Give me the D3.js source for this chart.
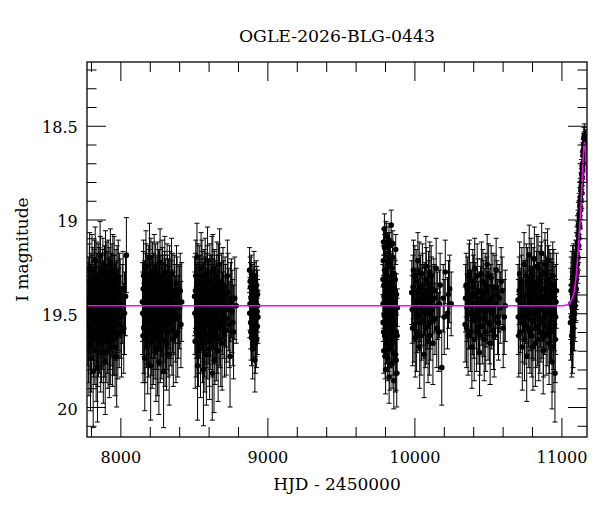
<!DOCTYPE html>
<html>
<head>
<meta charset="utf-8">
<script src="https://cdn.jsdelivr.net/npm/d3@7"></script>
<style>
  body { margin: 0; background: #fff; }
  text { font-family: "DejaVu Serif", serif; fill: #000; }
</style>
</head>
<body>
<svg id="chart"></svg>
<script>
// observing seasons: [HJD-2450000, I mag, error]
var season1 = [
  [7778,19.55,.23],[7782,19.41,.21],[7786,19.68,.26],[7789,19.33,.2],[7793,19.49,.22],[7797,19.74,.28],[7800,19.38,.2],[7804,19.58,.24],
  [7807,19.27,.19],[7811,19.46,.22],[7815,19.81,.3],[7818,19.52,.23],[7822,19.36,.2],[7826,19.63,.25],[7829,19.22,.18],[7833,19.47,.22],
  [7837,19.55,.23],[7840,19.31,.19],[7844,19.79,.29],[7848,19.43,.21],[7851,19.6,.24],[7855,19.35,.2],[7859,19.5,.22],[7862,19.19,.18],
  [7866,19.66,.26],[7870,19.44,.21],[7873,19.39,.2],[7877,19.57,.23],[7881,19.29,.19],[7884,19.71,.27],[7888,19.48,.22],[7892,19.34,.2],
  [7895,19.53,.23],[7899,19.25,.19],[7903,19.62,.25],[7906,19.45,.21],[7910,19.37,.2],[7914,19.58,.24],[7917,19.3,.19],[7921,19.5,.22],
  [7925,19.69,.26],[7928,19.41,.21],[7932,19.23,.18],[7936,19.55,.23],[7939,19.46,.22],[7943,19.33,.2],[7947,19.64,.25],[7950,19.4,.21],
  [7954,19.52,.22],[7958,19.28,.19],[7962,19.59,.24],[7966,19.44,.21],[7970,19.36,.2],[7975,19.73,.27],[7980,19.49,.22],[7986,19.31,.2],
  [7992,19.56,.23],[7999,19.42,.21],[8008,19.6,.24],[8018,19.37,.2],[8028,19.5,.22],[8041,19.19,.2],
  [7780,19.44,.21],[7784,19.62,.25],[7788,19.5,.22],[7791,19.26,.19],[7795,19.57,.23],[7799,19.46,.22],[7802,19.66,.26],[7806,19.4,.21],
  [7809,19.53,.22],[7813,19.35,.2],[7817,19.6,.24],[7820,19.47,.22],[7824,19.3,.19],[7828,19.54,.23],[7831,19.42,.21],[7835,19.7,.27],
  [7839,19.38,.2],[7842,19.51,.22],[7846,19.64,.25],[7850,19.33,.2],[7853,19.48,.22],[7857,19.58,.24],[7861,19.41,.21],[7864,19.28,.19],
  [7868,19.55,.23],[7872,19.62,.25],[7875,19.47,.22],[7879,19.36,.2],[7883,19.52,.22],[7886,19.43,.21],[7890,19.6,.24],[7894,19.39,.21],
  [7897,19.76,.28],[7901,19.45,.21],[7905,19.54,.23],[7908,19.32,.2],[7912,19.49,.22],[7916,19.65,.25],[7919,19.42,.21],[7923,19.35,.2],
  [7927,19.57,.23],[7930,19.46,.22],[7934,19.63,.25],[7938,19.38,.2],[7941,19.51,.22],[7945,19.44,.21],[7949,19.27,.19],[7952,19.59,.24],
  [7956,19.47,.22],[7960,19.4,.21],[7964,19.68,.26],[7968,19.53,.22],[7973,19.43,.21],[7978,19.34,.2],[7983,19.61,.24],[7989,19.48,.22],
  [7995,19.39,.21],[8003,19.52,.22],[8013,19.45,.21],[8023,19.58,.24],[8035,19.41,.21]
];
var season2 = [
  [8150,19.44,.21],[8154,19.62,.25],[8158,19.3,.19],[8162,19.51,.22],[8166,19.74,.28],[8170,19.38,.2],[8174,19.25,.19],[8178,19.56,.23],
  [8182,19.47,.22],[8186,19.67,.26],[8190,19.34,.2],[8194,19.53,.23],[8198,19.2,.18],[8202,19.45,.21],[8206,19.78,.29],[8210,19.41,.21],
  [8214,19.59,.24],[8218,19.32,.2],[8222,19.49,.22],[8226,19.63,.25],[8230,19.27,.19],[8234,19.52,.22],[8238,19.39,.2],[8242,19.7,.27],
  [8246,19.44,.21],[8250,19.57,.23],[8254,19.31,.19],[8258,19.48,.22],[8262,19.76,.28],[8266,19.36,.2],[8270,19.23,.18],[8274,19.54,.23],
  [8278,19.43,.21],[8282,19.61,.24],[8286,19.35,.2],[8290,19.5,.22],[8294,19.81,.3],[8298,19.4,.21],[8302,19.28,.19],[8306,19.58,.24],
  [8310,19.46,.22],[8314,19.66,.25],[8318,19.33,.2],[8322,19.52,.22],[8327,19.42,.21],[8332,19.72,.27],[8337,19.37,.2],[8342,19.55,.23],
  [8348,19.29,.19],[8354,19.49,.22],[8360,19.64,.25],[8367,19.4,.21],[8374,19.53,.23],[8382,19.34,.2],[8390,19.6,.24],[8398,19.45,.21],
  [8407,19.38,.2],[8417,19.44,.21],
  [8152,19.5,.22],[8156,19.37,.2],[8160,19.58,.24],[8164,19.43,.21],[8168,19.62,.25],[8172,19.47,.22],[8176,19.33,.2],[8180,19.54,.23],
  [8184,19.4,.21],[8188,19.5,.22],[8192,19.6,.24],[8196,19.36,.2],[8200,19.55,.23],[8204,19.42,.21],[8208,19.29,.19],[8212,19.52,.22],
  [8216,19.65,.25],[8220,19.44,.21],[8224,19.38,.2],[8228,19.57,.23],[8232,19.46,.22],[8236,19.61,.24],[8240,19.33,.2],[8244,19.5,.22],
  [8248,19.41,.21],[8252,19.68,.26],[8256,19.45,.21],[8260,19.36,.2],[8264,19.55,.23],[8268,19.48,.22],[8272,19.62,.25],[8276,19.39,.2],
  [8280,19.51,.22],[8284,19.3,.19],[8288,19.58,.24],[8292,19.44,.21],[8296,19.53,.23],[8300,19.37,.2],[8304,19.64,.25],[8308,19.42,.21],
  [8312,19.5,.22],[8316,19.57,.23],[8320,19.4,.21],[8325,19.6,.24],[8330,19.47,.22],[8335,19.34,.2],[8340,19.52,.22],[8345,19.43,.21],
  [8351,19.59,.24],[8357,19.38,.2],[8364,19.5,.22],[8371,19.45,.21],[8378,19.62,.25],[8386,19.41,.21],[8394,19.52,.22],[8403,19.47,.22],
  [8412,19.56,.23]
];
var season3 = [
  [8505,19.41,.21],[8509,19.65,.25],[8513,19.3,.19],[8517,19.52,.22],[8521,19.2,.18],[8525,19.78,.29],[8529,19.44,.21],[8533,19.58,.24],
  [8537,19.34,.2],[8541,19.49,.22],[8545,19.69,.26],[8549,19.26,.19],[8553,19.46,.22],[8557,19.55,.23],[8561,19.37,.2],[8565,19.8,.3],
  [8569,19.42,.21],[8573,19.6,.24],[8577,19.29,.19],[8581,19.5,.22],[8585,19.72,.27],[8589,19.38,.2],[8593,19.22,.18],[8597,19.54,.23],
  [8601,19.45,.21],[8605,19.64,.25],[8609,19.33,.2],[8613,19.51,.22],[8625,19.82,.25],[8621,19.4,.21],[8629,19.27,.19],[8633,19.47,.22],
  [8637,19.75,.28],[8641,19.36,.2],[8645,19.53,.23],[8649,19.43,.21],[8653,19.62,.24],[8657,19.31,.19],[8661,19.49,.22],[8665,19.7,.27],
  [8670,19.39,.2],[8675,19.24,.19],[8680,19.56,.23],[8686,19.44,.21],[8692,19.66,.25],[8698,19.35,.2],[8705,19.52,.22],[8712,19.41,.21],
  [8720,19.59,.24],[8728,19.3,.19],[8737,19.48,.22],[8746,19.73,.27],[8755,19.42,.21],[8765,19.55,.23],[8788,19.46,.2],
  [8507,19.5,.22],[8511,19.38,.2],[8515,19.6,.24],[8519,19.45,.21],[8523,19.55,.23],[8527,19.33,.2],[8531,19.64,.25],[8535,19.42,.21],
  [8539,19.52,.22],[8543,19.39,.2],[8547,19.58,.24],[8551,19.47,.22],[8555,19.3,.19],[8559,19.62,.25],[8563,19.44,.21],[8567,19.53,.23],
  [8571,19.36,.2],[8575,19.66,.26],[8579,19.41,.21],[8583,19.56,.23],[8587,19.48,.22],[8591,19.34,.2],[8595,19.61,.24],[8599,19.43,.21],
  [8603,19.5,.22],[8607,19.69,.27],[8611,19.39,.2],[8615,19.57,.23],[8619,19.46,.22],[8623,19.28,.19],[8627,19.6,.24],[8631,19.42,.21],
  [8635,19.54,.23],[8639,19.37,.2],[8643,19.63,.25],[8647,19.47,.22],[8651,19.52,.22],[8655,19.4,.21],[8659,19.58,.24],[8663,19.45,.21],
  [8668,19.33,.2],[8673,19.55,.23],[8678,19.48,.22],[8683,19.64,.25],[8689,19.38,.2],[8695,19.5,.22],[8701,19.43,.21],[8708,19.6,.24],
  [8716,19.46,.22],[8724,19.53,.23],[8732,19.39,.21],[8741,19.56,.23],[8750,19.44,.21],[8760,19.49,.22],[8770,19.6,.25],[8778,19.42,.22]
];
var season4 = [
  [8879,19.27,.12],[8882,19.45,.14],[8885,19.36,.13],[8888,19.6,.15],[8891,19.32,.13],[8894,19.5,.14],[8897,19.41,.13],[8900,19.69,.16],
  [8903,19.38,.13],[8906,19.55,.14],[8909,19.3,.13],[8912,19.47,.14],[8915,19.75,.17],[8918,19.42,.13],[8921,19.58,.15],[8924,19.35,.13],
  [8927,19.64,.15],[8930,19.49,.14],[8933,19.4,.13],[8936,19.52,.14],
  [8880,19.5,.13],[8883,19.33,.13],[8886,19.55,.14],[8889,19.42,.13],[8892,19.63,.15],[8895,19.37,.13],[8898,19.52,.14],[8901,19.45,.14],
  [8904,19.6,.15],[8907,19.4,.13],[8910,19.53,.14],[8913,19.36,.13],[8916,19.48,.14],[8919,19.66,.16],[8922,19.44,.14],[8925,19.5,.14],
  [8928,19.38,.13],[8931,19.57,.15],[8934,19.46,.14]
];
var season5 = [
  [9786,19.32,.08],[9788,19.55,.1],[9790,19.12,.07],[9792,19.7,.12],[9794,19.41,.09],[9796,19.05,.08],[9798,19.62,.11],[9800,19.27,.08],
  [9802,19.48,.09],[9804,19.8,.13],[9806,19.18,.07],[9808,19.38,.08],[9810,19.66,.11],[9812,19.09,.07],[9814,19.52,.1],[9816,19.3,.08],
  [9818,19.74,.12],[9820,19.44,.09],[9822,19.22,.08],[9824,19.58,.1],[9826,19.35,.08],[9828,19.84,.14],[9830,19.14,.07],[9832,19.47,.09],
  [9834,19.68,.11],[9836,19.25,.08],[9838,19.4,.09],[9840,19.6,.1],[9842,19.03,.08],[9844,19.53,.1],[9846,19.33,.08],[9848,19.77,.13],
  [9850,19.45,.09],[9852,19.2,.08],[9854,19.64,.11],[9856,19.37,.08],[9858,19.5,.09],[9860,19.86,.15],[9862,19.29,.08],[9864,19.56,.1],
  [9867,19.42,.09],[9870,19.72,.2],[9873,19.16,.08],[9876,19.6,.12],[9880,19.82,.18],[9884,19.47,.1],
  [9787,19.45,.09],[9789,19.22,.08],[9791,19.6,.1],[9793,19.35,.08],[9795,19.51,.09],[9797,19.15,.07],[9799,19.42,.09],[9801,19.73,.12],
  [9803,19.3,.08],[9805,19.57,.1],[9807,19.08,.07],[9809,19.49,.09],[9811,19.28,.08],[9813,19.63,.11],[9815,19.4,.09],[9817,19.19,.07],
  [9819,19.55,.1],[9821,19.34,.08],[9823,19.69,.12],[9825,19.46,.09],[9827,19.11,.07],[9829,19.53,.1],[9831,19.38,.08],[9833,19.78,.13],
  [9835,19.43,.09],[9837,19.23,.08],[9839,19.59,.1],[9841,19.31,.08],[9843,19.5,.09],[9845,19.65,.11],[9847,19.26,.08],[9849,19.41,.09],
  [9851,19.57,.1],[9853,19.13,.07],[9855,19.48,.09],[9857,19.71,.12],[9859,19.36,.08],[9861,19.54,.1],[9863,19.44,.09],[9866,19.62,.12],
  [9869,19.32,.1],[9872,19.5,.12],[9875,19.75,.16],[9878,19.4,.11],[9882,19.62,.2]
];
var season6 = [
  [9982,19.39,.17],[9988,19.58,.2],[9994,19.27,.16],[10000,19.47,.18],[10006,19.63,.21],[10012,19.33,.17],[10018,19.52,.19],[10024,19.22,.15],
  [10030,19.44,.18],[10036,19.68,.22],[10042,19.36,.17],[10048,19.55,.2],[10054,19.29,.16],[10060,19.49,.18],[10066,19.72,.23],[10072,19.4,.17],
  [10078,19.25,.16],[10084,19.57,.2],[10090,19.45,.18],[10096,19.34,.17],[10102,19.62,.21],[10108,19.5,.19],[10114,19.3,.16],[10120,19.43,.18],
  [10126,19.66,.22],[10132,19.38,.17],[10140,19.53,.19],[10148,19.26,.16],[10156,19.46,.18],[10165,19.6,.21],[10175,19.35,.17],[10186,19.79,.2],
  [10196,19.42,.18],[10210,19.28,.17],[10225,19.5,.19],[10240,19.37,.18],[10250,19.45,.17],
  [9985,19.48,.18],[9991,19.36,.17],[9997,19.56,.2],[10003,19.3,.16],[10009,19.45,.18],[10015,19.6,.21],[10021,19.39,.17],[10027,19.51,.19],
  [10033,19.28,.16],[10039,19.47,.18],[10045,19.62,.21],[10051,19.42,.18],[10057,19.35,.17],[10063,19.54,.2],[10069,19.44,.18],[10075,19.58,.21],
  [10081,19.32,.17],[10087,19.5,.19],[10093,19.65,.22],[10099,19.4,.18],[10105,19.28,.16],[10111,19.55,.2],[10117,19.37,.17],[10123,19.48,.19],
  [10136,19.42,.18],[10152,19.58,.21],[10170,19.45,.18],[10203,19.52,.2],[10232,19.4,.18]
];
var season7 = [
  [10345,19.56,.2],[10352,19.35,.17],[10358,19.47,.18],[10365,19.62,.21],[10371,19.3,.17],[10378,19.5,.19],[10384,19.41,.18],[10391,19.68,.22],
  [10397,19.33,.17],[10404,19.54,.2],[10410,19.26,.16],[10417,19.45,.18],[10423,19.6,.21],[10430,19.38,.17],[10436,19.52,.19],[10443,19.71,.23],
  [10449,19.43,.18],[10456,19.29,.17],[10462,19.57,.2],[10469,19.4,.18],[10475,19.64,.22],[10482,19.35,.17],[10488,19.49,.19],[10495,19.24,.16],
  [10501,19.55,.2],[10508,19.44,.18],[10515,19.66,.22],[10522,19.31,.17],[10530,19.48,.19],[10538,19.59,.21],[10547,19.37,.18],[10556,19.27,.17],
  [10566,19.52,.2],[10577,19.42,.18],[10590,19.33,.18],[10604,19.58,.21],[10618,19.46,.19],
  [10348,19.42,.18],[10355,19.58,.21],[10362,19.37,.17],[10368,19.5,.19],[10375,19.28,.17],[10381,19.6,.21],[10388,19.45,.18],[10394,19.52,.2],
  [10401,19.36,.17],[10407,19.64,.22],[10414,19.41,.18],[10420,19.5,.19],[10427,19.3,.17],[10433,19.57,.2],[10440,19.46,.18],[10446,19.62,.21],
  [10453,19.39,.18],[10459,19.48,.19],[10466,19.33,.17],[10472,19.53,.2],[10479,19.44,.18],[10485,19.6,.21],[10492,19.38,.18],[10498,19.47,.19],
  [10505,19.3,.17],[10512,19.56,.21],[10519,19.42,.18],[10526,19.5,.19],[10534,19.36,.18],[10543,19.62,.22],[10552,19.45,.19],[10561,19.4,.18],
  [10572,19.55,.2],[10584,19.47,.19],[10597,19.38,.18],[10611,19.52,.2]
];
var season8 = [
  [10705,19.43,.19],[10710,19.62,.22],[10716,19.29,.17],[10722,19.51,.2],[10728,19.37,.18],[10734,19.68,.23],[10740,19.46,.19],[10746,19.24,.17],
  [10752,19.56,.21],[10758,19.4,.18],[10764,19.73,.24],[10770,19.33,.18],[10776,19.49,.19],[10781,19.19,.16],[10786,19.6,.22],[10791,19.44,.19],
  [10796,19.3,.17],[10801,19.54,.2],[10806,19.68,.23],[10811,19.38,.18],[10816,19.21,.17],[10821,19.47,.19],[10826,19.58,.21],[10831,19.35,.18],
  [10836,19.5,.2],[10841,19.26,.17],[10846,19.64,.22],[10851,19.42,.19],[10856,19.32,.18],[10861,19.55,.21],[10866,19.18,.16],[10871,19.46,.19],
  [10876,19.7,.23],[10881,19.37,.18],[10886,19.52,.2],[10891,19.28,.17],[10896,19.61,.22],[10901,19.43,.19],[10906,19.22,.17],[10911,19.49,.2],
  [10916,19.66,.22],[10921,19.34,.18],[10926,19.55,.21],[10931,19.4,.19],[10936,19.76,.25],[10941,19.3,.18],[10946,19.58,.22],[10951,19.45,.2],
  [10956,19.82,.26],[10961,19.52,.2],[10966,19.38,.2],
  [10707,19.52,.2],[10713,19.38,.18],[10719,19.6,.22],[10725,19.45,.19],[10731,19.33,.18],[10737,19.55,.21],[10743,19.41,.19],[10749,19.64,.22],
  [10755,19.47,.19],[10761,19.3,.17],[10767,19.52,.2],[10773,19.4,.19],[10778,19.58,.21],[10783,19.36,.18],[10788,19.5,.2],[10793,19.27,.17],
  [10798,19.62,.22],[10803,19.44,.19],[10808,19.33,.18],[10813,19.54,.21],[10818,19.4,.19],[10823,19.66,.23],[10828,19.46,.19],[10833,19.25,.17],
  [10838,19.57,.21],[10843,19.42,.19],[10848,19.35,.18],[10853,19.6,.22],[10858,19.48,.2],[10863,19.3,.18],[10868,19.53,.21],[10873,19.41,.19],
  [10878,19.62,.22],[10883,19.45,.19],[10888,19.24,.17],[10893,19.5,.2],[10898,19.38,.18],[10903,19.57,.21],[10908,19.44,.19],[10913,19.32,.18],
  [10918,19.6,.22],[10923,19.47,.2],[10928,19.36,.18],[10933,19.55,.21],[10938,19.42,.19],[10943,19.68,.24],[10948,19.35,.19],[10953,19.5,.2],
  [10958,19.64,.23],[10963,19.44,.2]
];
// the rising part of the event
var season9 = [
  [11062,19.55,.2],[11066,19.38,.18],[11070,19.62,.22],[11073,19.47,.19],[11076,19.31,.17],[11079,19.58,.21],[11082,19.44,.19],[11085,19.36,.18],
  [11088,19.5,.2],[11091,19.4,.18],[11094,19.33,.17],[11097,19.27,.16],[11100,19.37,.17],[11103,19.22,.15],[11106,19.28,.16],[11109,19.12,.14],
  [11112,19.2,.14],[11115,19.03,.12],[11118,19.1,.13],[11121,18.97,.11],[11124,19.04,.12],[11127,18.9,.1],[11130,18.95,.1],[11133,18.84,.09],
  [11136,18.8,.09],[11139,18.86,.08],[11142,18.72,.08],[11145,18.7,.07],[11148,18.64,.07],[11151,18.6,.06],[11154,18.57,.06],[11157,18.6,.06],
  [11160,18.62,.07],[11163,18.58,.06],
  [11064,19.45,.19],[11068,19.52,.2],[11072,19.35,.18],[11075,19.6,.22],[11078,19.42,.19],[11081,19.5,.2],[11084,19.3,.17],[11087,19.44,.19],
  [11090,19.34,.17],[11093,19.46,.19],[11096,19.38,.17],[11099,19.3,.16],[11102,19.32,.16],[11105,19.18,.14],[11108,19.24,.15],[11111,19.15,.14],
  [11114,19.08,.13],[11117,19.14,.13],[11120,19.02,.12],[11123,18.99,.11],[11126,18.93,.1],[11129,18.88,.1],[11132,18.9,.1],[11135,18.82,.09],
  [11138,18.76,.08],[11141,18.78,.08],[11144,18.74,.08],[11147,18.66,.07],[11150,18.63,.07],[11153,18.62,.06],[11156,18.55,.06],[11159,18.59,.06],
  [11162,18.64,.07]
];

// model curve
var modelHjd = [7773, 11000, 11040, 11068, 11090, 11106, 11120, 11133, 11145, 11151, 11156, 11160, 11164, 11168, 11171, 11174];
var modelMag = [19.46, 19.46, 19.455, 19.43, 19.37, 19.25, 19.09, 18.93, 18.72, 18.63, 18.59, 18.6, 18.64, 18.7, 18.76, 18.8];

// axis ticks
var xMajor = [8000, 9000, 10000, 11000];
var xMinor = [7800, 8200, 8400, 8600, 8800, 9200, 9400, 9600, 9800, 10200, 10400, 10600, 10800];
var yMajor = [18.5, 19, 19.5, 20];
var yMinor = [18.2, 18.3, 18.4, 18.6, 18.7, 18.8, 18.9, 19.1, 19.2, 19.3, 19.4, 19.6, 19.7, 19.8, 19.9, 20.1];

var titleText = "OGLE-2026-BLG-0443";

var W = 600, H = 512;
var margin = { top: 62, right: 13, bottom: 75, left: 87 };
var width = W - margin.left - margin.right;
var height = H - margin.top - margin.bottom;

var svg = d3.select("#chart")
  .attr("width", W)
  .attr("height", H);

var g = svg.append("g")
  .attr("transform", "translate(" + margin.left + "," + margin.top + ")");

var xScale = d3.scaleLinear().domain([7773, 11174]).range([0, width]);
var yScale = d3.scaleLinear().domain([18.16, 20.16]).range([0, height]);

var data = [].concat(season1, season2, season3, season4, season5, season6, season7, season8, season9);

// clip so nothing sticks out of the frame
g.append("clipPath").attr("id", "clip")
  .append("rect").attr("width", width).attr("height", height);

var plot = g.append("g").attr("clip-path", "url(#clip)");

// error bars
var bars = plot.selectAll(".ebar")
  .data(data)
  .enter().append("g")
  .attr("class", "ebar")
  .attr("stroke", "#000")
  .attr("stroke-width", 1);

bars.append("line")
  .attr("x1", function(d) { return xScale(d[0]); })
  .attr("x2", function(d) { return xScale(d[0]); })
  .attr("y1", function(d) { return yScale(d[1] - d[2]); })
  .attr("y2", function(d) { return yScale(d[1] + d[2]); });

bars.append("line")
  .attr("x1", function(d) { return xScale(d[0]) - 2.5; })
  .attr("x2", function(d) { return xScale(d[0]) + 2.5; })
  .attr("y1", function(d) { return yScale(d[1] - d[2]); })
  .attr("y2", function(d) { return yScale(d[1] - d[2]); });

bars.append("line")
  .attr("x1", function(d) { return xScale(d[0]) - 2.5; })
  .attr("x2", function(d) { return xScale(d[0]) + 2.5; })
  .attr("y1", function(d) { return yScale(d[1] + d[2]); })
  .attr("y2", function(d) { return yScale(d[1] + d[2]); });

// dots
plot.selectAll(".dot")
  .data(data)
  .enter().append("circle")
  .attr("class", "dot")
  .attr("cx", function(d) { return xScale(d[0]); })
  .attr("cy", function(d) { return yScale(d[1]); })
  .attr("r", 2.8)
  .style("fill", "#000");

// model line
var line = d3.line()
  .x(function(d, i) { return xScale(modelHjd[i]); })
  .y(function(d, i) { return yScale(modelMag[i]); })
  .curve(d3.curveMonotoneX);

plot.append("path")
  .datum(modelHjd)
  .attr("d", line)
  .attr("fill", "none")
  .attr("stroke", "#ff00ff")
  .attr("stroke-width", 1.6);

// axes, ticks pointing inward on all four sides
function styleAxis(sel) {
  sel.select(".domain").remove();
  sel.selectAll(".tick line").attr("stroke", "#000");
  sel.selectAll("text")
    .style("font-family", "'DejaVu Serif', serif")
    .style("font-size", "16px")
    .attr("fill", "#000");
}

g.append("g")
  .attr("transform", "translate(0," + height + ")")
  .call(d3.axisBottom(xScale).tickValues(xMajor).tickSize(-19).tickSizeOuter(0).tickPadding(14.3).tickFormat(d3.format("d")))
  .call(styleAxis);

g.append("g")
  .attr("transform", "translate(0," + height + ")")
  .call(d3.axisBottom(xScale).tickValues(xMinor).tickSize(-10).tickSizeOuter(0).tickFormat(""))
  .call(styleAxis);

g.append("g")
  .call(d3.axisTop(xScale).tickValues(xMajor).tickSize(-19).tickSizeOuter(0).tickFormat(""))
  .call(styleAxis);

g.append("g")
  .call(d3.axisTop(xScale).tickValues(xMinor).tickSize(-10).tickSizeOuter(0).tickFormat(""))
  .call(styleAxis);

g.append("g")
  .call(d3.axisLeft(yScale).tickValues(yMajor).tickSize(-19).tickSizeOuter(0).tickPadding(9.3).tickFormat(function(d) { return String(d); }))
  .call(styleAxis)
  .selectAll("text").attr("dy", "0.45em");

g.append("g")
  .call(d3.axisLeft(yScale).tickValues(yMinor).tickSize(-9.5).tickSizeOuter(0).tickFormat(""))
  .call(styleAxis);

g.append("g")
  .attr("transform", "translate(" + width + ",0)")
  .call(d3.axisRight(yScale).tickValues(yMajor).tickSize(-19).tickSizeOuter(0).tickFormat(""))
  .call(styleAxis);

g.append("g")
  .attr("transform", "translate(" + width + ",0)")
  .call(d3.axisRight(yScale).tickValues(yMinor).tickSize(-9.5).tickSizeOuter(0).tickFormat(""))
  .call(styleAxis);

// frame
g.append("rect")
  .attr("width", width)
  .attr("height", height)
  .attr("fill", "none")
  .attr("stroke", "#000")
  .attr("stroke-width", 1.3);

// title and axis labels
svg.append("text")
  .attr("x", margin.left + width / 2)
  .attr("y", 41.7)
  .style("text-anchor", "middle")
  .style("font-size", "17.3px")
  .text(titleText);

svg.append("text")
  .attr("x", margin.left + width / 2)
  .attr("y", 490)
  .style("text-anchor", "middle")
  .style("font-size", "17px")
  .text("HJD - 2450000");

svg.append("text")
  .attr("transform", "translate(28," + (margin.top + height / 2) + ") rotate(-90)")
  .style("text-anchor", "middle")
  .style("font-size", "17px")
  .text("I magnitude");
</script>
</body>
</html>
